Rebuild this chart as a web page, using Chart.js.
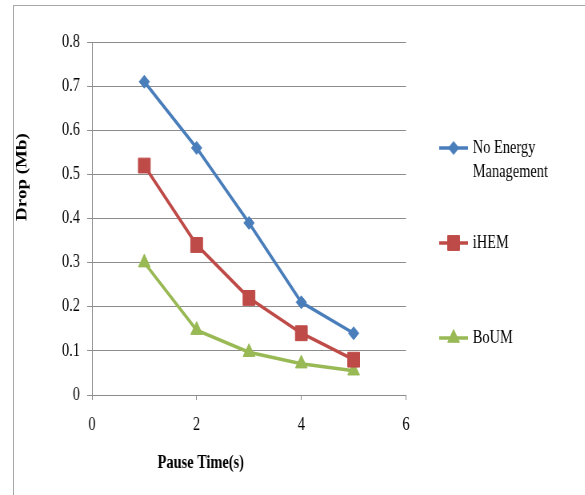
<!DOCTYPE html>
<html>
<head>
<meta charset="utf-8">
<script src="https://cdn.jsdelivr.net/npm/chart.js@4/dist/chart.umd.min.js"></script>
<style>
html, body { margin: 0; padding: 0; background: #fff; overflow: hidden; width: 585px; height: 495px; }
#moldura { position: absolute; left: 13px; top: 5px; width: 600px; height: 520px; border-left: 1px solid #a8a8a8; border-top: 1px solid #a8a8a8; }
/* a figura original esta comprimida na horizontal, entao desenho mais largo e aperto */
#grafico { position: absolute; left: 0; top: 0; transform: scaleX(0.8); transform-origin: 0 0; }
</style>
</head>
<body>
<div id="moldura"></div>
<canvas id="grafico" width="732" height="495"></canvas>
<script>
const pausas = [1, 2, 3, 4, 5];
const semGestao = [0.71, 0.56, 0.39, 0.21, 0.14];
const ihem = [0.52, 0.34, 0.22, 0.14, 0.08];
const boum = [0.30, 0.147, 0.097, 0.071, 0.055];

const ticksX = [0, 2, 4, 6];
const ticksY = [0, 0.1, 0.2, 0.3, 0.4, 0.5, 0.6, 0.7, 0.8];

const nomesSeries = ['No Energy Management', 'iHEM', 'BoUM'];
const linhasLegenda = [['No Energy', 'Management'], ['iHEM'], ['BoUM']];
const cores = ['#4A7EBB', '#BE4B48', '#98B954'];
const estilos = ['rectRot', 'rect', 'triangle'];
const raios = [6.5, 10.5, 8.5];

const tituloX = 'Pause Time(s)';
const tituloY = 'Drop (Mb)';

const FONTE = '"Liberation Serif", "Times New Roman", serif';
const CINZA = '#8c8c8c';

function pares(valores) {
  return valores.map((v, i) => ({ x: pausas[i], y: v }));
}

function montarSerie(i, valores) {
  return {
    label: nomesSeries[i],
    data: pares(valores),
    borderColor: cores[i],
    backgroundColor: cores[i],
    borderWidth: 3.5,
    pointStyle: estilos[i],
    pointRadius: raios[i],
    pointBackgroundColor: cores[i],
    pointBorderColor: cores[i],
    pointBorderWidth: 1,
    tension: 0,
    fill: false
  };
}

// legenda do lado direito, igual ao excel
const legendaLateral = {
  id: 'legendaLateral',
  afterDraw(chart) {
    const ctx = chart.ctx;
    const xIni = 549, xFim = 585, xTexto = 591;
    const ys = [148, 243, 338];
    chart.data.datasets.forEach((ds, i) => {
      const y = ys[i];
      ctx.save();
      ctx.strokeStyle = ds.borderColor;
      ctx.lineWidth = 3.5;
      ctx.beginPath();
      ctx.moveTo(xIni, y);
      ctx.lineTo(xFim, y);
      ctx.stroke();
      ctx.fillStyle = ds.pointBackgroundColor;
      ctx.strokeStyle = ds.pointBorderColor;
      ctx.lineWidth = 1;
      Chart.helpers.drawPoint(ctx, { pointStyle: ds.pointStyle, radius: ds.pointRadius, rotation: 0, borderWidth: 1 }, (xIni + xFim) / 2, y);
      ctx.fillStyle = '#000';
      ctx.font = '18px ' + FONTE;
      ctx.textAlign = 'left';
      ctx.textBaseline = 'middle';
      linhasLegenda[i].forEach((txt, j) => ctx.fillText(txt, xTexto, y + j * 24));
      ctx.restore();
    });
  }
};

// titulos dos eixos (nao ficam centrados no grafico no original)
const titulosEixos = {
  id: 'titulosEixos',
  afterDraw(chart) {
    const ctx = chart.ctx;
    ctx.save();
    ctx.fillStyle = '#000';
    ctx.textAlign = 'center';
    ctx.textBaseline = 'middle';
    ctx.font = 'bold 18px ' + FONTE;
    ctx.fillText(tituloX, 251, 463);
    ctx.translate(28, 177);
    ctx.rotate(-Math.PI / 2);
    ctx.font = 'bold 19px ' + FONTE;
    ctx.fillText(tituloY, 0, 0);
    ctx.restore();
  }
};

new Chart(document.getElementById('grafico'), {
  type: 'line',
  data: {
    datasets: [
      montarSerie(0, semGestao),
      montarSerie(1, ihem),
      montarSerie(2, boum)
    ]
  },
  options: {
    responsive: false,
    animation: false,
    devicePixelRatio: 1,
    layout: { padding: { top: 42, right: 224.5, left: 0, bottom: 0 } },
    plugins: { legend: { display: false }, tooltip: { enabled: false } },
    scales: {
      x: {
        type: 'linear',
        min: 0,
        max: 6,
        afterBuildTicks(s) { s.ticks = ticksX.map(v => ({ value: v })); },
        afterFit(s) { s.height = 100; },
        ticks: { color: '#000', font: { family: FONTE, size: 18 }, padding: 14 },
        grid: { drawOnChartArea: false, drawTicks: true, tickLength: 5, color: CINZA },
        border: { color: CINZA }
      },
      y: {
        type: 'linear',
        min: 0,
        max: 0.8,
        afterBuildTicks(s) { s.ticks = ticksY.map(v => ({ value: v })); },
        afterFit(s) { s.width = 115; },
        ticks: { color: '#000', font: { family: FONTE, size: 18 }, padding: 9, callback: v => String(v) },
        grid: { color: CINZA, tickLength: 6 },
        border: { color: CINZA }
      }
    }
  },
  plugins: [legendaLateral, titulosEixos]
});
</script>
</body>
</html>
